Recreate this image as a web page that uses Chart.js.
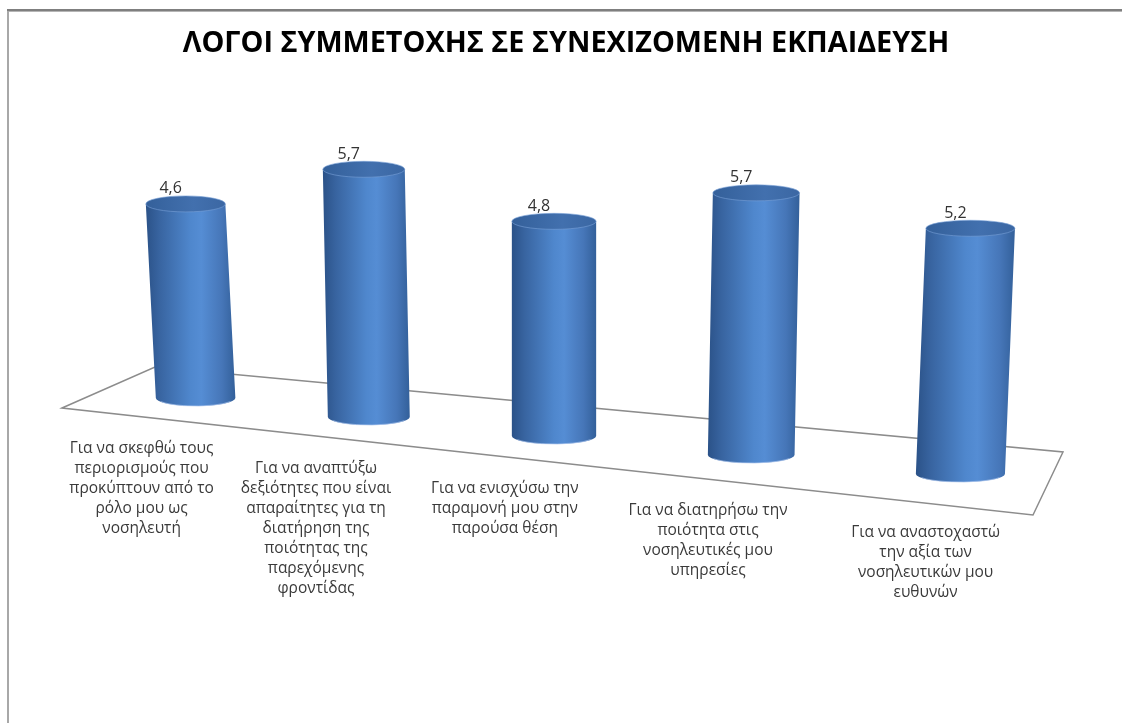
<!DOCTYPE html>
<html>
<head>
<meta charset="utf-8">
<script src="https://cdn.jsdelivr.net/npm/chart.js@4/dist/chart.umd.min.js"></script>
<style>
  html, body { margin: 0; padding: 0; background: #fff; }
  canvas { display: block; }
</style>
</head>
<body>
<canvas id="chart" width="1122" height="723"></canvas>
<script>
// data
const categories = [
  ['Για να σκεφθώ τους', 'περιορισμούς που', 'προκύπτουν από το', 'ρόλο μου ως', 'νοσηλευτή'],
  ['Για να αναπτύξω', 'δεξιότητες που είναι', 'απαραίτητες για τη', 'διατήρηση της', 'ποιότητας της', 'παρεχόμενης', 'φροντίδας'],
  ['Για να ενισχύσω την', 'παραμονή μου στην', 'παρούσα θέση'],
  ['Για να διατηρήσω την', 'ποιότητα στις', 'νοσηλευτικές μου', 'υπηρεσίες'],
  ['Για να αναστοχαστώ', 'την αξία των', 'νοσηλευτικών μου', 'ευθυνών']
];
const values = [4.6, 5.7, 4.8, 5.7, 5.2];
const chartTitle = 'ΛΟΓΟΙ ΣΥΜΜΕΤΟΧΗΣ ΣΕ ΣΥΝΕΧΙΖΟΜΕΝΗ ΕΚΠΑΙΔΕΥΣΗ';

// fake 3D perspective: bars further right sit lower, grow a bit and lean outwards
function persp(el, i) {
  const k = 1 + 0.03 * i;
  const bx = el.x + 6 * (i - 2) * (i - 2) - 12;
  const by = el.base + 19 * i;
  const h = (el.base - el.y) * k;
  return { bx: bx, by: by, tx: bx + 5 * (i - 2), ty: by - h, rx: el.width * k / 2, ry: 8 };
}

const framePlugin = {
  id: 'frame',
  beforeDraw(chart) {
    const ctx = chart.ctx;
    ctx.save();
    ctx.fillStyle = '#7f7f7f';
    ctx.fillRect(7, 9, chart.width - 7, 2);
    ctx.fillStyle = '#b5b5b5';
    ctx.fillRect(7, 11, chart.width - 7, 1);
    ctx.fillStyle = '#a8a8a8';
    ctx.fillRect(7, 11, 2, chart.height - 11);
    ctx.restore();
  }
};

const floorPlugin = {
  id: 'floor',
  beforeDatasetsDraw(chart) {
    const ctx = chart.ctx;
    const a = chart.chartArea;
    ctx.save();
    ctx.strokeStyle = '#8c8c8c';
    ctx.lineWidth = 1.5;
    ctx.beginPath();
    ctx.moveTo(a.left - 26, a.bottom + 10);
    ctx.lineTo(a.left + 67, a.bottom - 31);
    ctx.lineTo(a.right + 19, a.bottom + 54);
    ctx.lineTo(a.right - 11, a.bottom + 117);
    ctx.closePath();
    ctx.stroke();
    ctx.restore();
  }
};

const cylinderPlugin = {
  id: 'cylinders',
  afterDatasetsDraw(chart) {
    const ctx = chart.ctx;
    const meta = chart.getDatasetMeta(0);
    meta.data.forEach((el, i) => {
      const p = persp(el, i);
      ctx.save();
      // body
      const left = Math.min(p.bx, p.tx) - p.rx;
      const right = Math.max(p.bx, p.tx) + p.rx;
      const g = ctx.createLinearGradient(left, 0, right, 0);
      g.addColorStop(0, '#2b5288');
      g.addColorStop(0.15, '#3864a0');
      g.addColorStop(0.5, '#4f87cd');
      g.addColorStop(0.62, '#558dd4');
      g.addColorStop(0.85, '#4676b8');
      g.addColorStop(1, '#33609a');
      ctx.beginPath();
      ctx.moveTo(p.tx - p.rx, p.ty);
      ctx.lineTo(p.bx - p.rx, p.by);
      ctx.ellipse(p.bx, p.by, p.rx, p.ry, 0, Math.PI, 0, true);
      ctx.lineTo(p.tx + p.rx, p.ty);
      ctx.closePath();
      ctx.fillStyle = g;
      ctx.fill();
      // light rim at the bottom
      ctx.beginPath();
      ctx.ellipse(p.bx, p.by, p.rx - 1, p.ry, 0, Math.PI * 0.85, Math.PI * 0.15, true);
      ctx.strokeStyle = 'rgba(170,195,235,0.7)';
      ctx.lineWidth = 1;
      ctx.stroke();
      // top cap
      const gt = ctx.createLinearGradient(p.tx - p.rx, 0, p.tx + p.rx, 0);
      gt.addColorStop(0, '#34609a');
      gt.addColorStop(0.6, '#4270ae');
      gt.addColorStop(1, '#3b67a3');
      ctx.beginPath();
      ctx.ellipse(p.tx, p.ty, p.rx, p.ry, 0, 0, Math.PI * 2);
      ctx.fillStyle = gt;
      ctx.fill();
      ctx.strokeStyle = 'rgba(120,160,215,0.6)';
      ctx.stroke();
      // value label
      ctx.fillStyle = '#333333';
      ctx.font = '16px "Open Sans", sans-serif';
      ctx.textAlign = 'center';
      ctx.textBaseline = 'middle';
      ctx.fillText(String(values[i]).replace('.', ','), p.tx - 15, p.ty - 15);
      // category label, staggered along the floor
      ctx.fillStyle = '#3a3a3a';
      ctx.font = '15.5px "Open Sans", sans-serif';
      const lines = chart.data.labels[i];
      const lx = p.bx - 54 + 1.2 * i * i;
      const ly = p.by + 51 + 0.5 * i * i;
      lines.forEach((line, j) => {
        ctx.fillText(line, lx, ly + j * 20);
      });
      ctx.restore();
    });
  }
};

new Chart(document.getElementById('chart'), {
  type: 'bar',
  data: {
    labels: categories,
    datasets: [{
      data: values,
      backgroundColor: 'rgba(0,0,0,0)',
      borderWidth: 0,
      barPercentage: 0.52,
      categoryPercentage: 0.8
    }]
  },
  options: {
    responsive: false,
    animation: false,
    layout: { padding: { top: 0, bottom: 325, left: 88, right: 78 } },
    plugins: {
      legend: { display: false },
      tooltip: { enabled: false },
      title: {
        display: true,
        text: chartTitle,
        color: '#000',
        font: { family: '"Open Sans", sans-serif', size: 28.8, weight: 'bold' },
        padding: { top: 27, bottom: 20 }
      }
    },
    scales: {
      x: { display: false },
      y: { display: false, min: 0, max: 7.5 }
    }
  },
  plugins: [framePlugin, floorPlugin, cylinderPlugin]
});
</script>
</body>
</html>
